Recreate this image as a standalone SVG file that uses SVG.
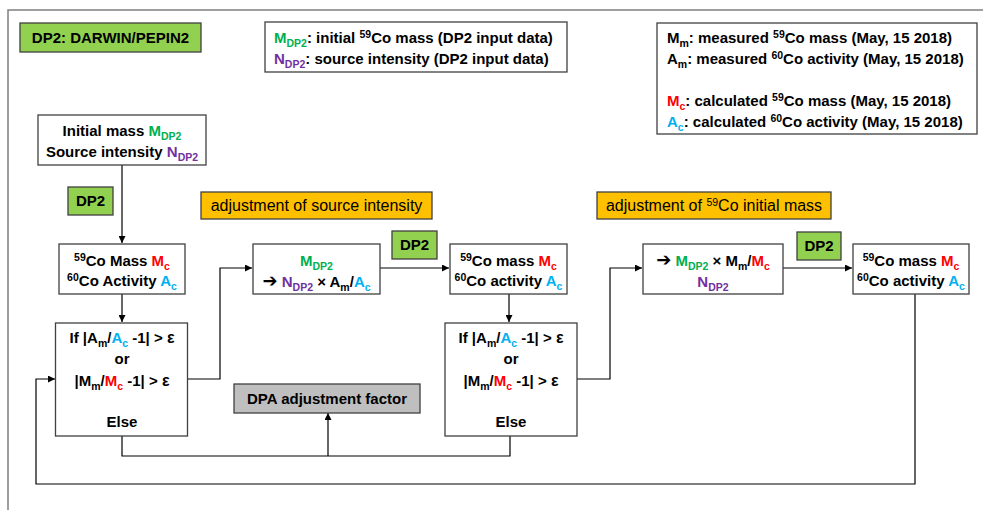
<svg xmlns="http://www.w3.org/2000/svg" width="983" height="510" viewBox="0 0 983 510">
<style>
text{font-family:"Liberation Sans","DejaVu Sans",sans-serif;font-size:15px;font-weight:bold;fill:#000}
.c{text-anchor:middle}
.n{font-weight:normal;font-size:16px}
.box{fill:#fff;stroke:#404040;stroke-width:1.3}
.green{fill:#92D050;stroke:#404040;stroke-width:1.3}
.orange{fill:#FFC000;stroke:#404040;stroke-width:1.3}
.gray{fill:#BFBFBF;stroke:#404040;stroke-width:1.3}
.sub{font-size:10.5px;baseline-shift:-4px}
.sup{font-size:10.5px;baseline-shift:5px}
.ar{font-size:18px}
.e{font-size:16px}
.g{fill:#00B050}.p{fill:#7030A0}.r{fill:#FF0000}.b{fill:#00B0F0}
.ln{fill:none;stroke:#000;stroke-width:1.2}
</style>
<defs>
<marker id="ah" viewBox="0 0 10 10" refX="10" refY="5" markerWidth="7" markerHeight="7" orient="auto" markerUnits="userSpaceOnUse">
<path d="M0,0 L10,5 L0,10 z" fill="#000"/>
</marker>
</defs>
<g id="frame"><path d="M8,510 V10 H983" fill="none" stroke="#7f7f7f" stroke-width="1.5"/></g>

<g id="title"><rect class="green" x="20" y="23" width="181" height="29"/><text class="c" x="110.5" y="43">DP2: DARWIN/PEPIN2</text></g>

<g id="legend1"><rect class="box" x="265" y="22" width="302" height="50"/>
<text x="274" y="43"><tspan class="g">M</tspan><tspan class="sub g">DP2</tspan>: initial <tspan class="sup">59</tspan>Co mass (DP2 input data)</text>
<text x="274" y="64"><tspan class="p">N</tspan><tspan class="sub p">DP2</tspan>: source intensity (DP2 input data)</text>
</g>

<g id="legend2"><rect class="box" x="657" y="23" width="320" height="111"/>
<text x="667" y="43">M<tspan class="sub">m</tspan>: measured <tspan class="sup">59</tspan>Co mass (May, 15 2018)</text>
<text x="667" y="64">A<tspan class="sub">m</tspan>: measured <tspan class="sup">60</tspan>Co activity (May, 15 2018)</text>
<text x="667" y="106"><tspan class="r">M</tspan><tspan class="sub r">c</tspan>: calculated <tspan class="sup">59</tspan>Co mass (May, 15 2018)</text>
<text x="667" y="127"><tspan class="b">A</tspan><tspan class="sub b">c</tspan>: calculated <tspan class="sup">60</tspan>Co activity (May, 15 2018)</text>
</g>

<g id="connectors">
<path class="ln" d="M122,165 V243" marker-end="url(#ah)"/>
<path class="ln" d="M122,294 V322" marker-end="url(#ah)"/>
<path class="ln" d="M188,379 H220 V268 H252" marker-end="url(#ah)"/>
<path class="ln" d="M380,268 H449" marker-end="url(#ah)"/>
<path class="ln" d="M509,294 V322" marker-end="url(#ah)"/>
<path class="ln" d="M577,379 H610 V268 H642" marker-end="url(#ah)"/>
<path class="ln" d="M783,268 H852" marker-end="url(#ah)"/>
<path class="ln" d="M122,436 V456 H510 V436"/>
<path class="ln" d="M328,456 V413" marker-end="url(#ah)"/>
<path class="ln" d="M915,294 V484 H36 V379 H55" marker-end="url(#ah)"/>
</g>

<g id="initial"><rect class="box" x="38" y="115" width="168" height="50"/>
<text class="c" x="122" y="136">Initial mass <tspan class="g">M</tspan><tspan class="sub g">DP2</tspan></text>
<text class="c" x="122" y="157">Source intensity <tspan class="p">N</tspan><tspan class="sub p">DP2</tspan></text>
</g>

<g id="dp2a"><rect class="green" x="68" y="187" width="45" height="28"/><text class="c" x="90.5" y="206">DP2</text></g>

<g id="calc1"><rect class="box" x="59" y="244" width="126" height="50"/>
<text class="c" x="122" y="266"><tspan class="sup">59</tspan>Co Mass <tspan class="r">M</tspan><tspan class="sub r">c</tspan></text>
<text class="c" x="122" y="286"><tspan class="sup">60</tspan>Co Activity <tspan class="b">A</tspan><tspan class="sub b">c</tspan></text>
</g>

<g id="dec1"><rect class="box" x="55.5" y="323" width="132" height="113"/>
<text class="c" x="122" y="343">If |A<tspan class="sub">m</tspan>/<tspan class="b">A</tspan><tspan class="sub b">c</tspan> -1| &gt; <tspan class="e">ε</tspan></text>
<text class="c" x="122" y="364">or</text>
<text class="c" x="122" y="386">|M<tspan class="sub">m</tspan>/<tspan class="r">M</tspan><tspan class="sub r">c</tspan> -1| &gt; <tspan class="e">ε</tspan></text>
<text class="c" x="122" y="427">Else</text>
</g>

<g id="adj1"><rect class="orange" x="201" y="192" width="231" height="27"/><text class="c n" x="316.5" y="211">adjustment of source intensity</text></g>

<g id="upd1"><rect class="box" x="253" y="244" width="127" height="50"/>
<text class="c" x="316.5" y="266"><tspan class="g">M</tspan><tspan class="sub g">DP2</tspan></text>
<text class="c" x="316.5" y="287"><tspan class="ar">➔</tspan> <tspan class="p">N</tspan><tspan class="sub p">DP2</tspan> × A<tspan class="sub">m</tspan>/<tspan class="b">A</tspan><tspan class="sub b">c</tspan></text>
</g>

<g id="dp2b"><rect class="green" x="392" y="231" width="45" height="28"/><text class="c" x="414.5" y="250">DP2</text></g>

<g id="calc2"><rect class="box" x="450" y="244" width="117" height="50"/>
<text class="c" x="508.5" y="266"><tspan class="sup">59</tspan>Co mass <tspan class="r">M</tspan><tspan class="sub r">c</tspan></text>
<text class="c" x="508.5" y="286"><tspan class="sup">60</tspan>Co activity <tspan class="b">A</tspan><tspan class="sub b">c</tspan></text>
</g>

<g id="dec2"><rect class="box" x="445" y="323" width="132" height="113"/>
<text class="c" x="511" y="343">If |A<tspan class="sub">m</tspan>/<tspan class="b">A</tspan><tspan class="sub b">c</tspan> -1| &gt; <tspan class="e">ε</tspan></text>
<text class="c" x="511" y="364">or</text>
<text class="c" x="511" y="386">|M<tspan class="sub">m</tspan>/<tspan class="r">M</tspan><tspan class="sub r">c</tspan> -1| &gt; <tspan class="e">ε</tspan></text>
<text class="c" x="511" y="427">Else</text>
</g>

<g id="dpa"><rect class="gray" x="234" y="384" width="186" height="29"/><text class="c" x="327" y="404">DPA adjustment factor</text></g>

<g id="adj2"><rect class="orange" x="597" y="192" width="234" height="27"/><text class="c n" x="714" y="211">adjustment of <tspan class="sup">59</tspan>Co initial mass</text></g>

<g id="upd2"><rect class="box" x="643" y="244" width="140" height="50"/>
<text class="c" x="713" y="266"><tspan class="ar">➔</tspan> <tspan class="g">M</tspan><tspan class="sub g">DP2</tspan> × M<tspan class="sub">m</tspan>/<tspan class="r">M</tspan><tspan class="sub r">c</tspan></text>
<text class="c" x="713" y="287"><tspan class="p">N</tspan><tspan class="sub p">DP2</tspan></text>
</g>

<g id="dp2c"><rect class="green" x="797" y="232" width="44" height="28"/><text class="c" x="819" y="251">DP2</text></g>

<g id="calc3"><rect class="box" x="853" y="244" width="116" height="50"/>
<text class="c" x="911" y="266"><tspan class="sup">59</tspan>Co mass <tspan class="r">M</tspan><tspan class="sub r">c</tspan></text>
<text class="c" x="911" y="286"><tspan class="sup">60</tspan>Co activity <tspan class="b">A</tspan><tspan class="sub b">c</tspan></text>
</g>
</svg>
